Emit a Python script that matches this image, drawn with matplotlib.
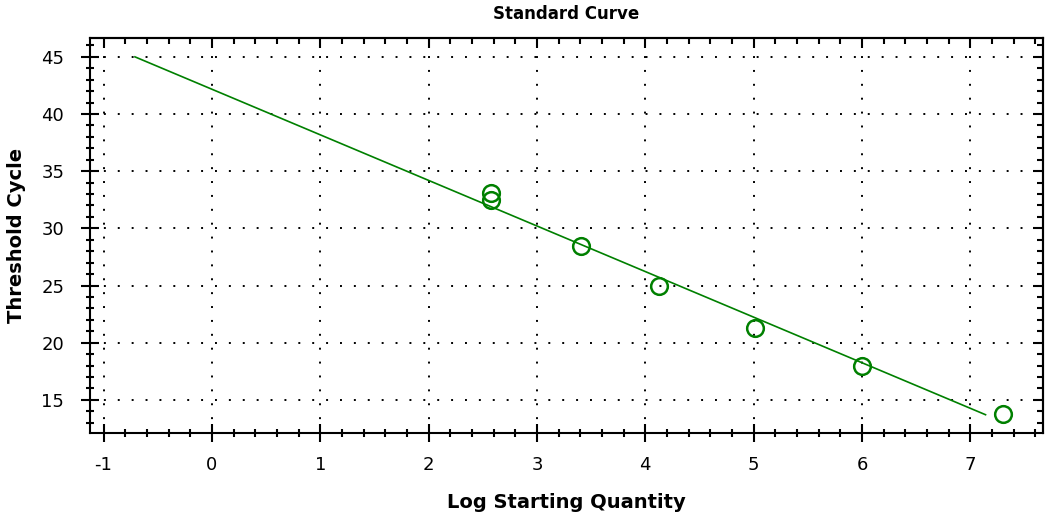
import matplotlib
matplotlib.use("Agg")
import matplotlib.pyplot as plt
from matplotlib.ticker import MultipleLocator

plt.rcParams['lines.scale_dashes'] = False
plt.rcParams['axes.unicode_minus'] = False

# standard points (log quantity, Ct)
log_qty = [2.58, 2.58, 3.41, 4.13, 5.01, 6.00, 7.30]
ct = [33.1, 32.5, 28.5, 25.0, 21.3, 18.0, 13.8]

# fitted line endpoints
fit_x = [-0.71, 7.14]
fit_y = [45.0, 13.7]

fig = plt.figure(figsize=(10.5, 5.19), dpi=100)
ax = fig.add_axes([0.0857, 0.1657, 0.9076, 0.7611])

ax.plot(fit_x, fit_y, color='#008000', lw=1.2, zorder=3)
ax.plot(log_qty, ct, 'o', mfc='none', mec='#008000', mew=1.8, ms=12, zorder=4)

ax.set_xlim(-1.125, 7.67)
ax.set_ylim(12.1, 46.65)

ax.xaxis.set_major_locator(MultipleLocator(1))
ax.xaxis.set_minor_locator(MultipleLocator(0.2))
ax.yaxis.set_major_locator(MultipleLocator(5))
ax.yaxis.set_minor_locator(MultipleLocator(1))
ax.tick_params(axis='x', which='major', direction='inout', length=13, width=1.5, labelsize=13, pad=10)
ax.tick_params(axis='y', which='major', direction='inout', length=13, width=1.5, labelsize=13, pad=12)
ax.tick_params(which='minor', direction='inout', length=6, width=1.5)
for s in ax.spines.values():
    s.set_linewidth(1.5)

# inward ticks on top and right
top = ax.secondary_xaxis('top')
top.xaxis.set_major_locator(MultipleLocator(1))
top.xaxis.set_minor_locator(MultipleLocator(0.2))
top.tick_params(which='major', direction='in', length=7, width=1.5, labeltop=False)
top.tick_params(which='minor', direction='in', length=4, width=1.5)
top.spines['top'].set_linewidth(1.5)
right = ax.secondary_yaxis('right')
right.yaxis.set_major_locator(MultipleLocator(5))
right.yaxis.set_minor_locator(MultipleLocator(1))
right.tick_params(which='major', direction='in', length=7, width=1.5, labelright=False)
right.tick_params(which='minor', direction='in', length=4, width=1.5)
right.spines['right'].set_linewidth(1.5)

ax.grid(True, which='major', color='black', linestyle=(0, (1.4, 8.6)), linewidth=1.4)
ax.set_axisbelow(True)

ax.set_title('Standard Curve', fontsize=12, fontweight='bold', pad=14)
ax.set_xlabel('Log Starting Quantity', fontsize=14, fontweight='bold', labelpad=14)
ax.set_ylabel('Threshold Cycle', fontsize=14, fontweight='bold', labelpad=11)

fig.savefig('out.png', dpi=100)
